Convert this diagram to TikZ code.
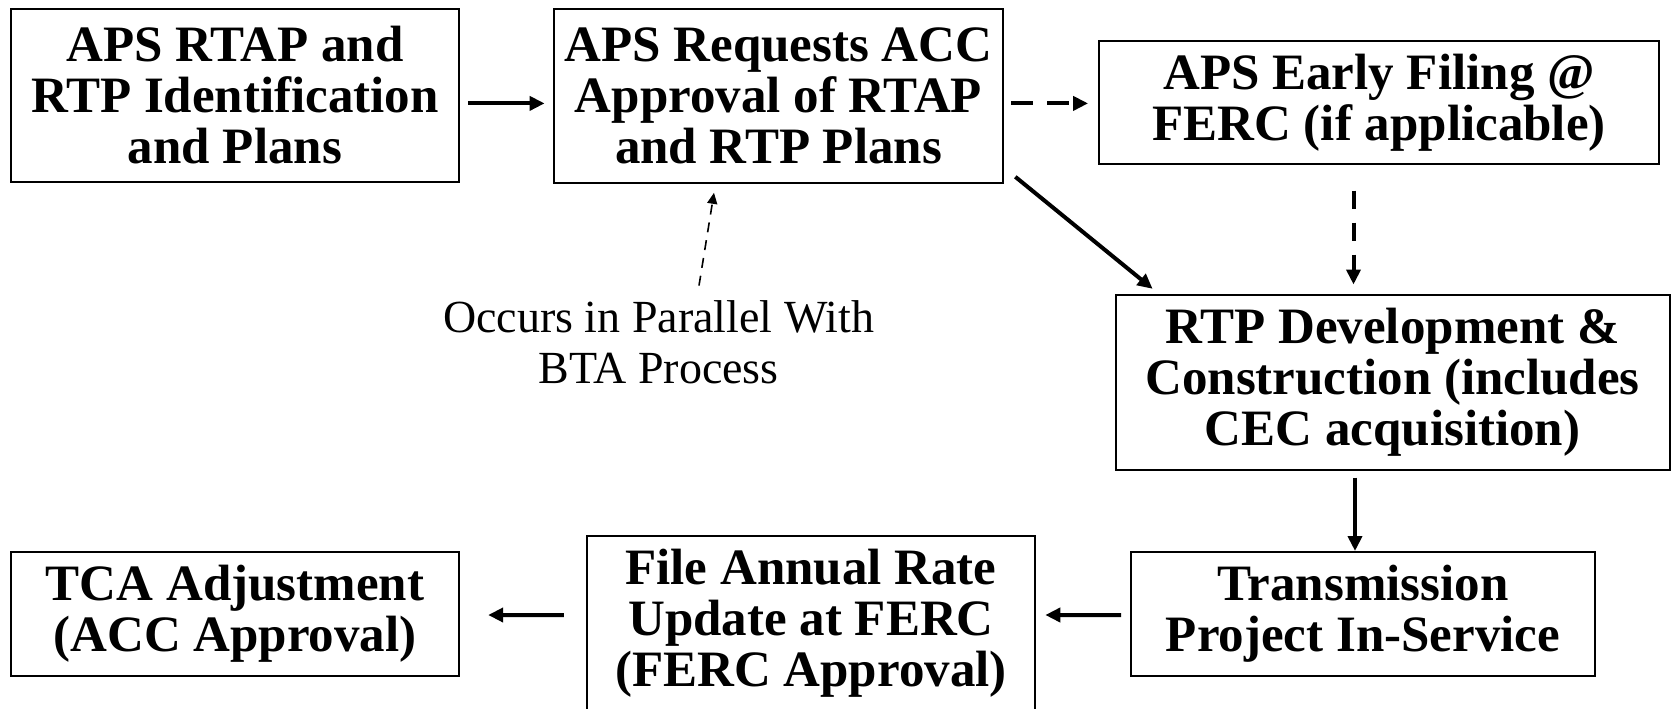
\documentclass[tikz,border=0pt]{standalone}
\usepackage{fontspec}
\setmainfont{Liberation Serif}
\usetikzlibrary{arrows.meta}
\begin{document}
\begin{tikzpicture}[x=0.5pt,y=-0.5pt,
  box/.style={draw,line width=1pt,rectangle,inner sep=0pt,align=center,
    font=\bfseries\fontsize{25.5}{25.5}\selectfont},
  arr/.style={line width=2pt,-{Triangle[length=7.5pt,width=7pt]}},
  darr/.style={arr,dash pattern=on 11pt off 7pt},
  varr/.style={arr,dash pattern=on 9pt off 7pt},
  tarr/.style={line width=0.8pt,dash pattern=on 5pt off 4pt,-{Triangle[length=5.5pt,width=5pt]}},
  lbl/.style={align=center,inner sep=0pt,font=\fontsize{23}{25.5}\selectfont}]
\useasboundingbox (0,0) rectangle (1671,708);
\node[box,minimum width=224.3pt,minimum height=86.9pt] (b1) at (235,95.4) {APS RTAP and\\RTP Identification\\and Plans};
\node[box,minimum width=224.5pt,minimum height=87.4pt] (b2) at (778.5,95.9) {APS Requests ACC\\Approval of RTAP\\and RTP Plans};
\node[box,minimum width=280.3pt,minimum height=61.8pt] (b3) at (1379,102.3) {APS Early Filing @\\FERC (if applicable)};
\node[box,minimum width=276.9pt,minimum height=87.4pt] (b4) at (1392.6,382.6) {RTP Development \&\\Construction (includes\\CEC acquisition)};
\node[box,minimum width=232.3pt,minimum height=61.8pt] (b5) at (1363,613.8) {Transmission\\Project In-Service};
\node[box,minimum width=223.8pt,minimum height=87pt] (b6) at (811,623) {File Annual Rate\\Update at FERC\\(FERC Approval)};
\node[box,minimum width=224.3pt,minimum height=61.8pt] (b7) at (235,613.8) {TCA Adjustment\\(ACC Approval)};
\node[lbl] (note) at (658.6,342) {Occurs in Parallel With\\BTA Process};

\draw[arr] ([shift={(7.5,8)}]b1.east) -- ([shift={(-8.4,7.5)}]b2.west);
\draw[darr] ([shift={(7,7.5)}]b2.east) -- ([shift={(-9.6,1.1)}]b3.west);
\draw[arr] ([shift={(11.3,-7.5)}]b2.south east) -- ([shift={(37.9,-5.4)}]b4.north west);
\draw[varr] ([shift={(-25.5,25.6)}]b3.south) -- ([shift={(-39.1,-9.7)}]b4.north);
\draw[arr] ([shift={(-37.6,6.5)}]b4.south) -- ([shift={(-8,0)}]b5.north);
\draw[arr] ([shift={(-8.5,1.2)}]b5.west) -- ([shift={(9.5,-8)}]b6.east);
\draw[arr] ([shift={(-22.3,-8)}]b6.west) -- ([shift={(27.85,1.2)}]b7.east);
\draw[tarr] ([shift={(40.4,-56.4)}]note.center) -- ([shift={(-64.5,8.5)}]b2.south);
\end{tikzpicture}
\end{document}
